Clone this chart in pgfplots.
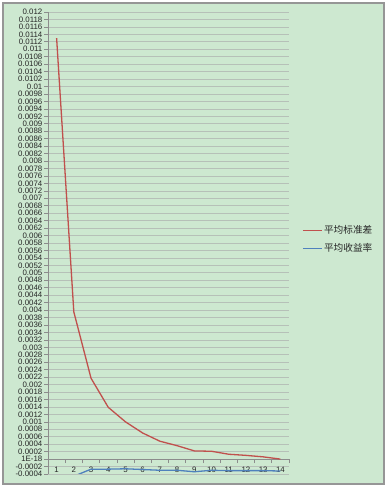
\documentclass[border=0pt]{standalone}
\usepackage{fontspec}
\setmainfont{Liberation Sans}
\newfontfamily\cjk{Noto Sans CJK SC}
\usepackage{pgfplots}
\pgfplotsset{compat=1.18}
\definecolor{bg}{RGB}{205,232,208}
\definecolor{framegray}{RGB}{150,150,150}
\definecolor{gridgray}{RGB}{182,192,184}
\definecolor{axisgray}{RGB}{140,140,140}
\definecolor{exred}{RGB}{192,80,77}
\definecolor{exblue}{RGB}{79,129,189}
\begin{document}
\begin{tikzpicture}[x=1bp,y=1bp]
\useasboundingbox (0,0) rectangle (387,487);
\fill[white] (0,0) rectangle (387,487);
\fill[bg, draw=framegray, line width=1.2bp] (3,3) rectangle (384,484);
\begin{axis}[
  at={(48bp,13bp)}, anchor=south west,
  scale only axis, width=241bp, height=462bp,
  xmin=0.5, xmax=14.5, ymin=-0.0004, ymax=0.012,
  axis x line=middle, axis y line=left,
  axis line style={-, draw=axisgray, line width=0.8bp},
  /pgf/number format/assume math mode=true,
  xtick={1,...,14},
  xticklabels={1,2,3,4,5,6,7,8,9,10,11,12,13,14},
  minor xtick={0.5,1.5,...,14.5},
  major x tick style={draw=none},
  minor x tick style={draw=axisgray, line width=0.6bp},
  y tick style={draw=axisgray, line width=0.6bp},
  tick align=outside,
  major tick length=4bp, minor tick length=4bp,
  scaled y ticks=false,
  ymajorgrids, grid style={gridgray, line width=0.6bp},
  ytick={-0.0004,-0.0002,0,0.0002,0.0004,0.0006,0.0008,0.001,0.0012,0.0014,0.0016,0.0018,0.002,0.0022,0.0024,0.0026,0.0028,0.003,0.0032,0.0034,0.0036,0.0038,0.004,0.0042,0.0044,0.0046,0.0048,0.005,0.0052,0.0054,0.0056,0.0058,0.006,0.0062,0.0064,0.0066,0.0068,0.007,0.0072,0.0074,0.0076,0.0078,0.008,0.0082,0.0084,0.0086,0.0088,0.009,0.0092,0.0094,0.0096,0.0098,0.01,0.0102,0.0104,0.0106,0.0108,0.011,0.0112,0.0114,0.0116,0.0118,0.012},
  yticklabels={-0.0004,-0.0002,1E-18,0.0002,0.0004,0.0006,0.0008,0.001,0.0012,0.0014,0.0016,0.0018,0.002,0.0022,0.0024,0.0026,0.0028,0.003,0.0032,0.0034,0.0036,0.0038,0.004,0.0042,0.0044,0.0046,0.0048,0.005,0.0052,0.0054,0.0056,0.0058,0.006,0.0062,0.0064,0.0066,0.0068,0.007,0.0072,0.0074,0.0076,0.0078,0.008,0.0082,0.0084,0.0086,0.0088,0.009,0.0092,0.0094,0.0096,0.0098,0.01,0.0102,0.0104,0.0106,0.0108,0.011,0.0112,0.0114,0.0116,0.0118,0.012},
  tick label style={font=\rmfamily\fontsize{7.9}{8}\selectfont, text=black!85},
  y tick label style={inner sep=1.5bp},
  legend style={at={(1.054,0.541)}, anchor=north west, draw=none, fill=none,
    row sep=5bp, inner sep=0pt,
    nodes={inner sep=1.5bp, text=black!85}},
  legend cell align=left,
  legend image code/.code={\draw[#1] (0bp,0bp) -- (19bp,0bp);},
]
\addplot[exred, line width=1.3bp] coordinates {
 (1,0.0113) (2,0.00395) (3,0.00217) (4,0.00139) (5,0.001) (6,0.0007) (7,0.00048)
 (8,0.00036) (9,0.00022) (10,0.00021) (11,0.00013) (12,0.0001) (13,0.00006) (14,0.0)
};
\addlegendentry{\cjk\fontsize{9.7}{11}\selectfont 平均标准差}
\addplot[exblue, line width=1.3bp] coordinates {
 (1,-0.0008) (2,-0.00046) (3,-0.00027) (4,-0.00027) (5,-0.00026) (6,-0.00028) (7,-0.0003)
 (8,-0.0003) (9,-0.00034) (10,-0.0003) (11,-0.00031) (12,-0.00031) (13,-0.00031) (14,-0.00032)
};
\addlegendentry{\cjk\fontsize{9.7}{11}\selectfont 平均收益率}
\end{axis}
\end{tikzpicture}
\end{document}
